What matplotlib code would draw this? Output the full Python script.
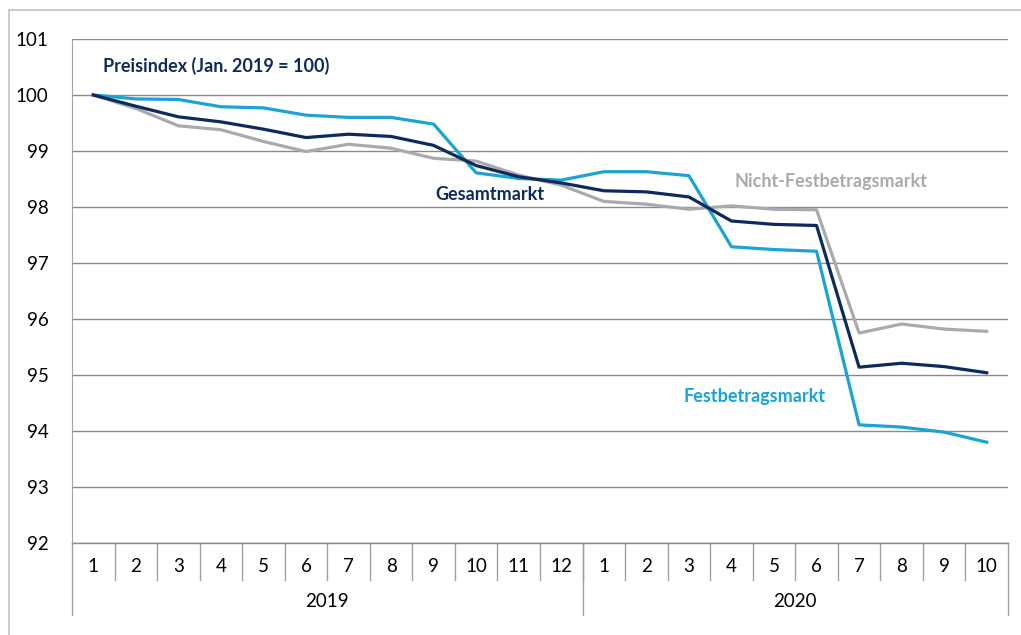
import matplotlib.pyplot as plt
from matplotlib.patches import Rectangle
import matplotlib.transforms as mtransforms

plt.rcParams['font.family'] = ['Lato', 'DejaVu Sans']

months = ['1', '2', '3', '4', '5', '6', '7', '8', '9', '10', '11', '12',
          '1', '2', '3', '4', '5', '6', '7', '8', '9', '10']
years = ['2019', '2020']
year_lengths = [12, 10]

gesamt = [100, 99.80, 99.61, 99.52, 99.39, 99.24, 99.30, 99.26, 99.10, 98.74, 98.54, 98.43,
          98.29, 98.27, 98.18, 97.75, 97.69, 97.67, 95.14, 95.21, 95.15, 95.04]
festbetrag = [100, 99.93, 99.92, 99.79, 99.77, 99.64, 99.60, 99.60, 99.48, 98.61, 98.51, 98.48,
              98.63, 98.63, 98.56, 97.29, 97.24, 97.21, 94.11, 94.07, 93.98, 93.80]
nicht_fest = [100, 99.76, 99.45, 99.38, 99.17, 98.99, 99.12, 99.05, 98.87, 98.82, 98.57, 98.39,
              98.10, 98.05, 97.96, 98.02, 97.96, 97.95, 95.75, 95.91, 95.82, 95.78]

navy = '#0e2a5c'
cyan = '#1aa3d3'
grey = '#a8aaad'
grid_col = '#8a8a8a'

fig = plt.figure(figsize=(10.21, 6.35), dpi=100)
ax = fig.add_axes([72 / 1021, 1 - 543 / 635, (1008 - 72) / 1021, (543 - 39) / 635])

x = list(range(len(months)))
ax.plot(x, nicht_fest, color=grey, lw=2.3, zorder=3)
ax.plot(x, festbetrag, color=cyan, lw=2.3, zorder=4)
ax.plot(x, gesamt, color=navy, lw=2.3, zorder=5)

ax.set_xlim(-0.5, len(months) - 0.5)
ax.set_ylim(92, 101)
ax.set_yticks(range(92, 102))
ax.yaxis.grid(True, color=grid_col, lw=1)
ax.set_axisbelow(True)
ax.tick_params(axis='y', length=0, pad=17, labelsize=13.5)
ax.set_xticks([])
for s in ['top', 'right', 'bottom']:
    ax.spines[s].set_visible(False)
ax.spines['left'].set_color('#a0a0a0')

# category axis below the plot
trans = mtransforms.blended_transform_factory(ax.transData, ax.transAxes)
for i, m in enumerate(months):
    ax.text(i, -0.046, m, transform=trans, ha='center', va='center', fontsize=13.5)
for i in range(1, len(months)):
    ax.plot([i - 0.5, i - 0.5], [0, -0.073], transform=trans, color='#a0a0a0',
            lw=1, clip_on=False)
start = 0
bounds = [-0.5]
for yr, n in zip(years, year_lengths):
    ax.text(start + (n - 1) / 2, -0.117, yr, transform=trans, ha='center',
            va='center', fontsize=13.5)
    start += n
    bounds.append(start - 0.5)
for b in bounds:
    ax.plot([b, b], [0, -0.143], transform=trans, color='#a0a0a0', lw=1, clip_on=False)
ax.plot([-0.5, len(months) - 0.5], [0, 0], transform=trans, color=grid_col, lw=1,
        clip_on=False)

# labels
ax.text(0.23, 100.52, 'Preisindex (Jan. 2019 = 100)', color=navy, fontsize=13,
        fontweight='bold', va='center', ha='left')
ax.text(8.05, 98.22, 'Gesamtmarkt', color=navy, fontsize=13, fontweight='bold',
        va='center', ha='left')
ax.text(15.08, 98.46, 'Nicht-Festbetragsmarkt', color=grey, fontsize=13,
        fontweight='bold', va='center', ha='left')
ax.text(13.88, 94.62, 'Festbetragsmarkt', color=cyan, fontsize=13, fontweight='bold',
        va='center', ha='left')

# outer chart frame
fig.add_artist(Rectangle((9 / 1021, -0.1), 1.2, 1 - 10 / 635 + 0.1,
                         transform=fig.transFigure, fill=False,
                         edgecolor='#c0c0c0', lw=1.2))

fig.savefig('out.png', dpi=100)
